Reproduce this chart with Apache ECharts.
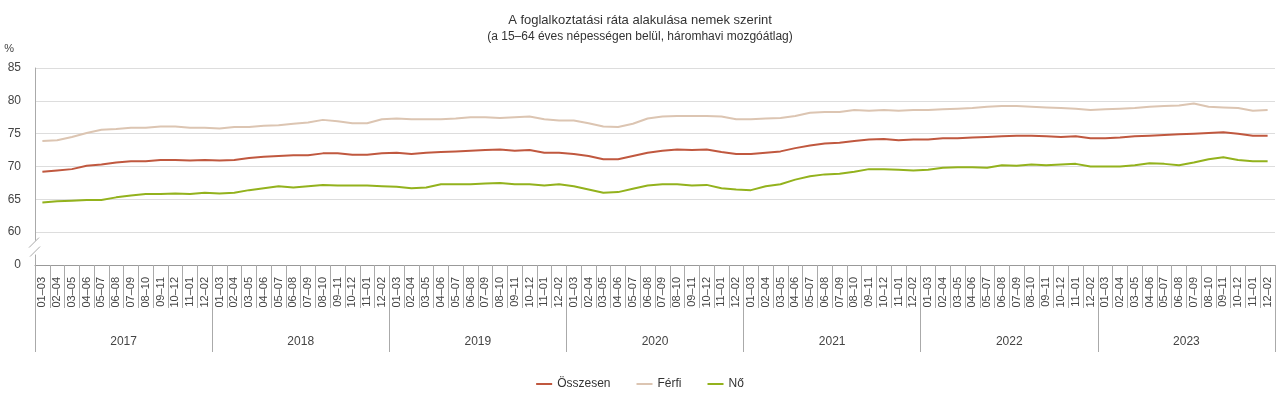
<!DOCTYPE html>
<html>
<head>
<meta charset="utf-8">
<script src="https://cdn.jsdelivr.net/npm/echarts@6/dist/echarts.min.js"></script>
<style>
  html, body { margin: 0; padding: 0; background: #fff; }
  #main { width: 1280px; height: 400px; }
</style>
</head>
<body>
<div id="main"></div>
<script>
var years = ['2017', '2018', '2019', '2020', '2021', '2022', '2023'];
var periods = ['01–03', '02–04', '03–05', '04–06', '05–07', '06–08', '07–09', '08–10', '09–11', '10–12', '11–01', '12–02'];

var osszesen = [
  69.2, 69.4, 69.6, 70.1, 70.3, 70.6, 70.8, 70.8, 71.0, 71.0, 70.9, 71.0,
  70.9, 71.0, 71.3, 71.5, 71.6, 71.7, 71.7, 72.0, 72.0, 71.8, 71.8, 72.0,
  72.1, 71.9, 72.1, 72.2, 72.3, 72.4, 72.5, 72.6, 72.4, 72.5, 72.1, 72.1,
  71.9, 71.6, 71.1, 71.1, 71.6, 72.1, 72.4, 72.6, 72.5, 72.6, 72.2, 71.9,
  71.9, 72.1, 72.3, 72.8, 73.2, 73.5, 73.6, 73.9, 74.1, 74.2, 74.0, 74.1,
  74.1, 74.3, 74.3, 74.4, 74.5, 74.6, 74.7, 74.7, 74.6, 74.5, 74.6, 74.3,
  74.3, 74.4, 74.6, 74.7, 74.8, 74.9, 75.0, 75.1, 75.2, 75.0, 74.7, 74.7
];
var ferfi = [
  73.9, 74.0, 74.5, 75.1, 75.6, 75.7, 75.9, 75.9, 76.1, 76.1, 75.9, 75.9,
  75.8, 76.0, 76.0, 76.2, 76.3, 76.5, 76.7, 77.1, 76.9, 76.6, 76.6, 77.2,
  77.3, 77.2, 77.2, 77.2, 77.3, 77.5, 77.5, 77.4, 77.5, 77.6, 77.2, 77.0,
  77.0, 76.6, 76.1, 76.0, 76.5, 77.3, 77.6, 77.7, 77.7, 77.7, 77.6, 77.2,
  77.2, 77.3, 77.4, 77.7, 78.2, 78.3, 78.3, 78.6, 78.5, 78.6, 78.5, 78.6,
  78.6, 78.7, 78.8, 78.9, 79.1, 79.2, 79.2, 79.1, 79.0, 78.9, 78.8, 78.6,
  78.7, 78.8, 78.9, 79.1, 79.2, 79.3, 79.6, 79.1, 79.0, 78.9, 78.5, 78.6
];
var no = [
  64.5, 64.7, 64.8, 64.9, 64.9, 65.3, 65.6, 65.8, 65.8, 65.9, 65.8, 66.0,
  65.9, 66.0, 66.4, 66.7, 67.0, 66.8, 67.0, 67.2, 67.1, 67.1, 67.1, 67.0,
  66.9, 66.7, 66.8, 67.3, 67.3, 67.3, 67.4, 67.5, 67.3, 67.3, 67.1, 67.3,
  67.0, 66.5, 66.0, 66.1, 66.6, 67.1, 67.3, 67.3, 67.1, 67.2, 66.7, 66.5,
  66.4, 67.0, 67.3, 68.0, 68.5, 68.8, 68.9, 69.2, 69.6, 69.6, 69.5, 69.4,
  69.5, 69.8, 69.9, 69.9, 69.8, 70.2, 70.1, 70.3, 70.2, 70.3, 70.4, 70.0,
  70.0, 70.0, 70.2, 70.5, 70.4, 70.2, 70.6, 71.1, 71.4, 71.0, 70.8, 70.8
];
// y tick values (55 is shown as the broken-axis "0")
var yTicks = [55, 60, 65, 70, 75, 80, 85];

var categories = [];
years.forEach(function (y) {
  periods.forEach(function (p) { categories.push(y + ' ' + p); });
});

var myChart = echarts.init(document.getElementById('main'));
var font = 'Liberation Sans, Arial, sans-serif';

var option = {
  backgroundColor: '#fff',
  textStyle: { fontFamily: font },
  title: {
    text: 'A foglalkoztatási ráta alakulása nemek szerint',
    subtext: '(a 15–64 éves népességen belül, háromhavi mozgóátlag)',
    left: 'center',
    top: 9,
    itemGap: 4,
    textStyle: { fontSize: 13, fontWeight: 'normal', color: '#333', fontFamily: font },
    subtextStyle: { fontSize: 12, color: '#333', fontFamily: font }
  },
  legend: {
    bottom: 5,
    left: 'center',
    itemWidth: 16,
    itemHeight: 10,
    itemGap: 26,
    icon: 'path://M0,4 L16,4 L16,6 L0,6 Z',
    textStyle: { fontSize: 12, color: '#333', fontFamily: font },
    data: ['Összesen', 'Férfi', 'Nő']
  },
  grid: { left: 35, right: 5, top: 68, bottom: 135 },
  xAxis: [{
    type: 'category',
    data: categories,
    boundaryGap: true,
    axisLine: { show: true, lineStyle: { color: '#999' } },
    axisTick: { show: true, interval: 0, length: 43, lineStyle: { color: '#aaa', width: 1 } },
    axisLabel: {
      interval: 0,
      rotate: 90,
      margin: 12,
      fontSize: 11,
      color: '#444',
      formatter: function (v) { return v.split(' ')[1]; }
    },
    splitLine: { show: false }
  }, {
    type: 'category',
    data: years,
    position: 'bottom',
    boundaryGap: true,
    axisLine: { show: false },
    axisTick: { show: true, interval: 0, length: 87, lineStyle: { color: '#aaa', width: 1 } },
    axisLabel: { margin: 71, fontSize: 12, color: '#444' }
  }],
  yAxis: {
    type: 'value',
    min: yTicks[0],
    max: yTicks[yTicks.length - 1],
    interval: 5,
    name: '%',
    nameLocation: 'end',
    nameGap: 14,
    nameTextStyle: { fontSize: 11, color: '#444', align: 'right', padding: [0, 21, 0, 0] },
    axisLine: { show: true, lineStyle: { color: '#aaa' } },
    axisTick: { show: false },
    axisLabel: {
      fontSize: 12,
      color: '#444',
      margin: 14,
      formatter: function (v) { return v === yTicks[0] ? '0' : v; }
    },
    splitLine: { lineStyle: { color: '#ddd' } }
  },
  series: [{
    name: 'Összesen',
    type: 'line',
    data: osszesen,
    symbol: 'none',
    lineStyle: { width: 2, color: '#c0583f' },
    itemStyle: { color: '#c0583f' },
    z: 3
  }, {
    name: 'Férfi',
    type: 'line',
    data: ferfi,
    symbol: 'none',
    lineStyle: { width: 2, color: '#dcc5b2' },
    itemStyle: { color: '#dcc5b2' },
    z: 2
  }, {
    name: 'Nő',
    type: 'line',
    data: no,
    symbol: 'none',
    lineStyle: { width: 2, color: '#93b21d' },
    itemStyle: { color: '#93b21d' },
    z: 2
  }]
};

myChart.setOption(option);

// axis break marks on the y axis between 0 and 60
var p = myChart.convertToPixel({ gridIndex: 0 }, [0, 57.5]);
var gx = 35, gy = p[1];
myChart.setOption({
  graphic: [{
    type: 'rect',
    shape: { x: gx - 4, y: gy - 8, width: 8, height: 14 },
    style: { fill: '#fff' },
    z: 100
  }, {
    type: 'line',
    shape: { x1: gx - 6, y1: gy - 1, x2: gx + 4, y2: gy - 11 },
    style: { stroke: '#aaa', lineWidth: 1 },
    z: 101
  }, {
    type: 'line',
    shape: { x1: gx - 5, y1: gy + 8, x2: gx + 5, y2: gy - 2 },
    style: { stroke: '#aaa', lineWidth: 1 },
    z: 101
  }]
});
</script>
</body>
</html>
